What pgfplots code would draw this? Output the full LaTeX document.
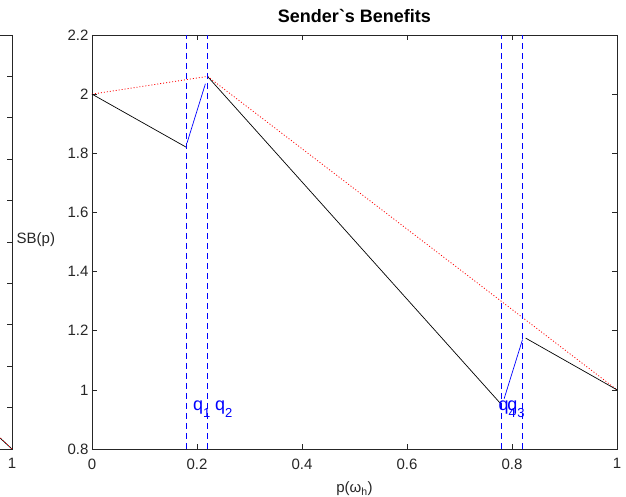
\documentclass[border=0pt]{standalone}
\usepackage{fontspec}
\setmainfont{Liberation Sans}
\usepackage{pgfplots}
\pgfplotsset{compat=1.18}
\definecolor{axgray}{RGB}{38,38,38}
\definecolor{mblue}{RGB}{0,0,255}
\definecolor{mred}{RGB}{255,0,0}
\pgfplotsset{
  mstyle/.style={
    scale only axis, width=525pt, height=414pt,
    axis line style={axgray, line width=0.6pt},
    every tick/.style={axgray, line width=0.6pt},
    major tick length=5pt,
    tick align=inside,
    ticklabel style={font=\fontsize{15}{18}\selectfont, text=axgray},
    /pgf/number format/assume math mode=true,
    xmin=0, xmax=1, xtick={0,0.2,0.4,0.6,0.8,1},
    xticklabel style={yshift=-6pt},
  }
}
\newcommand{\qlab}[1]{q\raisebox{-0.4em}{\fontsize{13}{15}\selectfont #1}}
\begin{document}
\begin{tikzpicture}[x=1pt,y=1pt]
% partially visible left subplot
\begin{axis}[mstyle, at={(12pt,48pt)}, anchor=south east,
  ymin=0, ymax=1, ytick={0,0.1,0.2,0.3,0.4,0.5,0.6,0.7,0.8,0.9,1}]
  \addplot[black, line width=0.7pt] coordinates {(0.9,0.116) (1,0)};
  \addplot[mred, line width=0.8pt, dash pattern=on 1pt off 2pt] coordinates {(0.9,0.122) (1,0)};
\end{axis}
% main subplot
\begin{axis}[mstyle, at={(92pt,48pt)}, anchor=south west,
  ymin=0.8, ymax=2.2, ytick={0.8,1,1.2,1.4,1.6,1.8,2,2.2},
  title={Sender\textasciigrave s Benefits},
  title style={font=\fontsize{18}{21}\selectfont\bfseries, text=black,
    at={(axis description cs:0.5,1.015)}, anchor=base},
  xlabel={p(ω\textsubscript{h})},
  xlabel style={font=\fontsize{15}{18}\selectfont, text=axgray,
    at={(axis description cs:0.5,-0.106)}, anchor=base},
  ylabel={SB(p)},
  ylabel style={font=\fontsize{15}{18}\selectfont, text=axgray,
    at={(axis description cs:-0.107,0.505)}, rotate=-90, anchor=center},
]
  % red dotted envelope
  \addplot[mred, line width=0.8pt, dash pattern=on 1pt off 2pt] coordinates {(0,2) (0.22,2.06) (1,1)};
  % black pieces
  \addplot[black, line width=0.7pt] coordinates {(0,2) (0.18,1.82)};
  \addplot[black, line width=0.7pt] coordinates {(0.22,2.06) (0.78,0.95)};
  \addplot[black, line width=0.7pt] coordinates {(0.826,1.175) (1,1)};
  % blue pieces
  \addplot[mblue, line width=0.7pt] coordinates {(0.181,1.835) (0.216,2.035)};
  \addplot[mblue, line width=0.7pt] coordinates {(0.785,0.97) (0.82,1.17)};
  % vertical dashed lines
  \addplot[mblue, line width=0.8pt, dash pattern=on 6pt off 4pt] coordinates {(0.18,0.8) (0.18,2.2)};
  \addplot[mblue, line width=0.8pt, dash pattern=on 6pt off 4pt] coordinates {(0.22,0.8) (0.22,2.2)};
  \addplot[mblue, line width=0.8pt, dash pattern=on 6pt off 4pt] coordinates {(0.78,0.8) (0.78,2.2)};
  \addplot[mblue, line width=0.8pt, dash pattern=on 6pt off 4pt] coordinates {(0.82,0.8) (0.82,2.2)};
  % labels
  \node[anchor=base west, inner sep=0pt, text=mblue, font=\fontsize{18}{21}\selectfont] at (axis cs:0.192,0.93) {\qlab{1}};
  \node[anchor=base west, inner sep=0pt, text=mblue, font=\fontsize{18}{21}\selectfont] at (axis cs:0.234,0.93) {\qlab{2}};
  \node[anchor=base west, inner sep=0pt, text=mblue, font=\fontsize{18}{21}\selectfont] at (axis cs:0.791,0.93) {\qlab{3}};
  \node[anchor=base west, inner sep=0pt, text=mblue, font=\fontsize{18}{21}\selectfont] at (axis cs:0.774,0.93) {\qlab{4}};
\end{axis}
\pgfresetboundingbox
\path[use as bounding box] (0,0) rectangle (626,497);
\end{tikzpicture}
\end{document}
